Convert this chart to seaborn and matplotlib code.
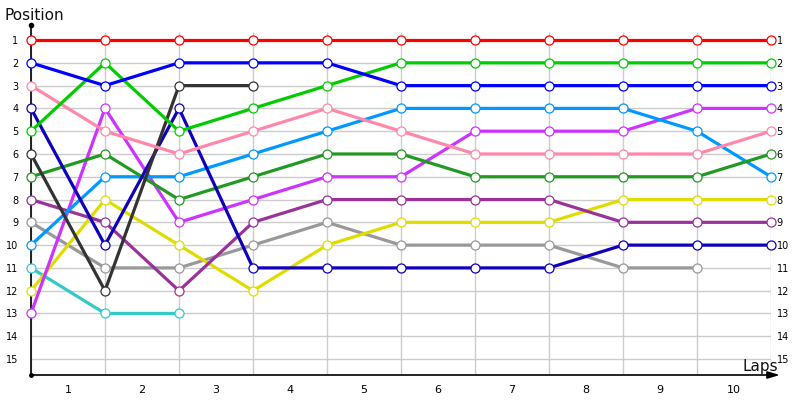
import matplotlib
matplotlib.use("Agg")
import matplotlib.pyplot as plt
import seaborn as sns
import pandas as pd

sns.set_theme(style="white")
plt.rcParams['font.family'] = ['DejaVu Sans']

laps = [0, 1, 2, 3, 4, 5, 6, 7, 8, 9, 10]
lap_labels = ["1", "2", "3", "4", "5", "6", "7", "8", "9", "10"]
positions = list(range(1, 16))

red = [1, 1, 1, 1, 1, 1, 1, 1, 1, 1, 1]
blue = [2, 3, 2, 2, 2, 3, 3, 3, 3, 3, 3]
green = [5, 2, 5, 4, 3, 2, 2, 2, 2, 2, 2]
pink = [3, 5, 6, 5, 4, 5, 6, 6, 6, 6, 5]
black = [6, 12, 3, 3]
navy = [4, 10, 4, 11, 11, 11, 11, 11, 10, 10, 10]
forest = [7, 6, 8, 7, 6, 6, 7, 7, 7, 7, 6]
sky = [10, 7, 7, 6, 5, 4, 4, 4, 4, 5, 7]
magenta = [13, 4, 9, 8, 7, 7, 5, 5, 5, 4, 4]
purple = [8, 9, 12, 9, 8, 8, 8, 8, 9, 9, 9]
yellow = [12, 8, 10, 12, 10, 9, 9, 9, 8, 8, 8]
gray = [9, 11, 11, 10, 9, 10, 10, 10, 11, 11]
teal = [11, 13, 13]

series = [
    (teal, "#33c9c9"),
    (gray, "#999999"),
    (yellow, "#e0dc00"),
    (purple, "#993399"),
    (magenta, "#cc33ff"),
    (sky, "#0099ff"),
    (forest, "#229922"),
    (navy, "#1100bb"),
    (black, "#333333"),
    (pink, "#ff88aa"),
    (green, "#00cc00"),
    (blue, "#0000ff"),
    (red, "#ff0000"),
]

fig = plt.figure(figsize=(8, 4), dpi=100)
ax = fig.add_axes([31 / 800, 0.0625, (771 - 31) / 800, 0.875])

ymax_bottom = 15.7
ymin_top = 0.34
ax.set_xlim(0, 10)
ax.set_ylim(ymax_bottom, ymin_top)

# grid
ax.hlines(positions, 0, 10, color="#cccccc", lw=1, zorder=0)
ax.vlines(laps, ymax_bottom, 0.65, color="#cccccc", lw=1, zorder=0)

for vals, col in series:
    df = pd.DataFrame({"lap": laps[:len(vals)], "pos": vals})
    sns.lineplot(data=df, x="lap", y="pos", ax=ax, color=col, lw=2.3,
                 marker="o", markersize=6.5, markerfacecolor="white",
                 markeredgecolor=col, markeredgewidth=0.9, clip_on=False,
                 zorder=3)

ax.set_xlabel("")
ax.set_ylabel("")

# spines
for s in ["top", "right", "bottom"]:
    ax.spines[s].set_visible(False)
ax.spines["left"].set_color("black")
ax.spines["left"].set_linewidth(1.2)

# bottom axis with arrow
ax.annotate("", xy=(10.12, ymax_bottom), xytext=(0, ymax_bottom),
            xycoords="data", textcoords="data", annotation_clip=False,
            arrowprops=dict(arrowstyle="-|>,head_length=0.6,head_width=0.18",
                            color="black", lw=1.2, shrinkA=0, shrinkB=0))
ax.plot([0], [ymin_top], marker="o", color="black", markersize=3, clip_on=False, zorder=5)
ax.plot([0], [ymax_bottom], marker="o", color="black", markersize=2.5, clip_on=False, zorder=5)

# y ticks left
ax.set_yticks(positions)
ax.set_yticklabels([str(p) for p in positions], fontsize=7, color="black")
ax.tick_params(axis="y", length=0, pad=9)

# right labels
ax2 = ax.twinx()
ax2.set_ylim(ymax_bottom, ymin_top)
ax2.set_yticks(positions)
ax2.set_yticklabels([str(p) for p in positions], fontsize=7, color="black")
ax2.tick_params(axis="y", length=0, pad=4)
for s in ax2.spines.values():
    s.set_visible(False)
ax2.grid(False)

# x tick labels at lap midpoints
ax.set_xticks([i + 0.5 for i in range(10)])
ax.set_xticklabels(lap_labels, fontsize=8, color="black")
ax.tick_params(axis="x", length=0, pad=7)
ax.grid(False)

fig.text(4 / 800, 1 - 16 / 400, "Position", fontsize=11, ha="left", va="center", color="#111111")
fig.text(742 / 800, 1 - 366 / 400, "Laps", fontsize=11, ha="left", va="center", color="#111111")

fig.savefig("out.png", dpi=100)
